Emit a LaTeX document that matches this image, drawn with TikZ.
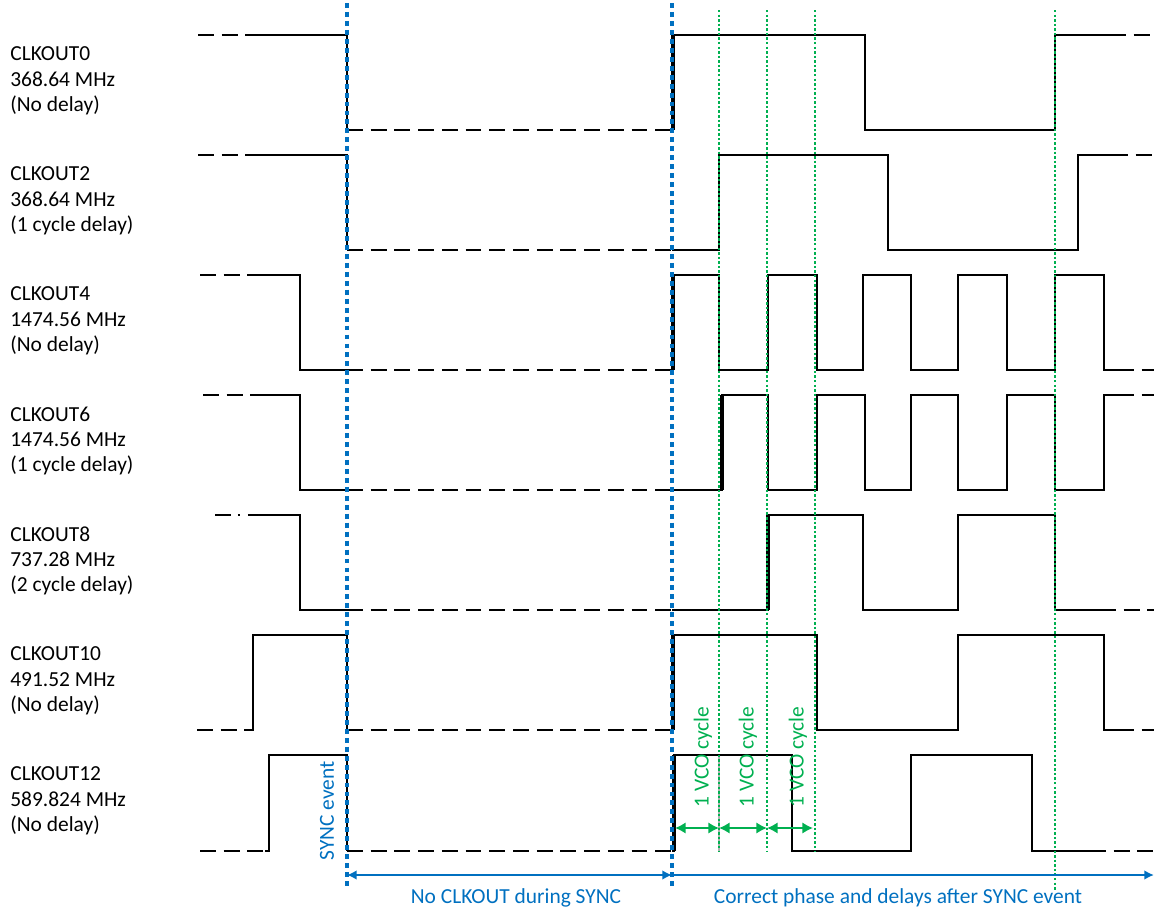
\documentclass[tikz,border=0pt]{standalone}
\usepackage{fontspec}
\setmainfont{Carlito}
\usetikzlibrary{arrows.meta}
\definecolor{syncblue}{HTML}{0070C0}
\definecolor{vcogreen}{HTML}{00B050}
\tikzset{
    wave/.style={line width=1.15pt, black},
    dashwave/.style={wave, dash pattern=on 9pt off 4.5pt},
    edge/.style={line width=2.2pt, black},
    syncline/.style={syncblue, line width=1.8pt, dash pattern=on 2.8pt off 2.3pt},
    vcoline/.style={vcogreen, line width=1.1pt, dash pattern=on 1.4pt off 1.2pt},
    syncarrow/.style={syncblue, line width=1.1pt},
    vcoarrow/.style={vcogreen, line width=1.4pt, >={Latex[length=6pt, width=6.5pt]}},
    lbl/.style={font=\fontsize{12.2}{14.4}\selectfont, inner sep=0pt}
}
\begin{document}
\begin{tikzpicture}[x=0.02cm, y=-0.02cm, >={Latex[length=5.5pt, width=5.5pt]}]
    \useasboundingbox (0, 0) rectangle (1154, 913);
    % channel labels
    \foreach \n/\f/\d [count=\i from 0] in {0/368.64/No delay, 2/368.64/1 cycle delay, 4/1474.56/No delay, 6/1474.56/1 cycle delay, 8/737.28/2 cycle delay, 10/491.52/No delay, 12/589.824/No delay} {
        \node[lbl, anchor=west, align=left] (clk\n) at (10, {81 + 120 * \i}) {CLKOUT\n\\\f{} MHz\\(\d)};
    };
    % CLKOUT0
    \draw[dashwave] (198, 35) -- (248, 35);
    \draw[wave] (248, 35) -| (347, 130);
    \draw[dashwave] (347, 130) -- (672, 130);
    \draw[wave] (672, 130) -- (672, 35) -| (865, 130) -| (1055, 35) -- (1110, 35);
    \draw[dashwave] (1110, 35) -- (1154, 35);
    \draw[edge] (673, 130) -- (673, 35);
    % CLKOUT2
    \draw[dashwave] (198, 155) -- (248, 155);
    \draw[wave] (248, 155) -| (347, 250);
    \draw[dashwave] (347, 250) -- (672, 250);
    \draw[wave] (672, 250) -| (719, 155) -| (888, 250) -| (1078, 155) -- (1112, 155);
    \draw[dashwave] (1112, 155) -- (1154, 155);
    % CLKOUT4
    \draw[dashwave] (200, 275) -- (250, 275);
    \draw[wave] (250, 275) -| (300, 370) -- (347, 370);
    \draw[dashwave] (347, 370) -- (672, 370);
    \draw[wave] (672, 370) -- (672, 275) -| (719, 370) -| (768, 275) -| (817, 370) -| (863, 275) -| (911, 370) -| (958, 275) -| (1007, 370) -| (1055, 275) -| (1104, 370) -- (1118, 370);
    \draw[dashwave] (1118, 370) -- (1154, 370);
    \draw[edge] (673, 370) -- (673, 275);
    % CLKOUT6
    \draw[dashwave] (203, 395) -- (252, 395);
    \draw[wave] (252, 395) -| (300, 490) -- (347, 490);
    \draw[dashwave] (347, 490) -- (672, 490);
    \draw[wave] (672, 490) -| (722, 395) -| (768, 490) -| (817, 395) -| (865, 490) -| (911, 395) -| (958, 490) -| (1007, 395) -| (1055, 490) -| (1104, 395) -- (1118, 395);
    \draw[dashwave] (1118, 395) -- (1154, 395);
    \draw[edge] (722, 490) -- (722, 395);
    % CLKOUT8
    \draw[wave, dash pattern=on 9pt off 4pt on 1.2pt off 4.5pt] (215, 515) -- (252, 515);
    \draw[wave] (252, 515) -| (300, 610) -- (347, 610);
    \draw[dashwave] (347, 610) -- (672, 610);
    \draw[wave] (672, 610) -| (768, 515) -| (863, 610) -| (958, 515) -| (1055, 610) -- (1100, 610);
    \draw[dashwave] (1100, 610) -- (1154, 610);
    \draw[edge] (768, 610) -- (768, 515);
    % CLKOUT10
    \draw[dashwave] (197, 730) -- (250, 730);
    \draw[wave] (250, 730) -| (253, 635) -| (347, 730);
    \draw[dashwave] (347, 730) -- (672, 730);
    \draw[wave] (672, 730) -- (672, 635) -| (817, 730) -| (958, 635) -| (1104, 730) -- (1118, 730);
    \draw[dashwave] (1118, 730) -- (1154, 730);
    \draw[edge] (673, 730) -- (673, 635);
    % CLKOUT12
    \draw[dashwave] (200, 851) -- (265, 851);
    \draw[wave] (265, 851) -| (269, 755) -| (347, 851);
    \draw[dashwave] (347, 851) -- (672, 851);
    \draw[wave] (672, 851) -| (674, 755) -| (792, 851) -| (911, 755) -| (1032, 851) -- (1090, 851);
    \draw[dashwave] (1090, 851) -- (1154, 851);
    \draw[edge] (674, 851) -- (674, 755);
    \draw[gray!60, line width=0.6pt] (719, 755) -- (719, 851);
    % VCO cycle markers
    \foreach \x in {719, 767, 815} {
        \draw[vcoline] (\x, 10) -- (\x, 852);
    };
    \draw[vcoline] (1055, 10) -- (1055, 890);
    \coordinate (v0) at (675, 828);
    \coordinate (v1) at (719, 828);
    \coordinate (v2) at (767, 828);
    \coordinate (v3) at (813, 828);
    \draw[vcoarrow, <->] (v0) -- (v1);
    \draw[vcoarrow, <->] (v1) -- (v2);
    \draw[vcoarrow, <->] (v2) -- (v3);
    \foreach \x [count=\i] in {703, 748, 798} {
        \node[lbl, text=vcogreen, rotate=90] (vco\i) at (\x, 757) {1 VCO cycle};
    };
    % SYNC lines
    \draw[syncline] (347, 3) -- (347, 888);
    \draw[syncline] (672, 3) -- (672, 888);
    \node[lbl, text=syncblue, rotate=90] (sync) at (327, 811) {SYNC event};
    \coordinate (syncA) at (347, 875);
    \coordinate (syncB) at (672, 875);
    \coordinate (tend) at (1154, 875);
    \draw[syncarrow, <->] (syncA) -- (syncB);
    \draw[syncarrow, ->] (syncB) -- (tend);
    \node[lbl, text=syncblue] (during) at (516, 898) {No CLKOUT during SYNC};
    \node[lbl, text=syncblue] (after) at (898, 898) {Correct phase and delays after SYNC event};
\end{tikzpicture}
\end{document}
